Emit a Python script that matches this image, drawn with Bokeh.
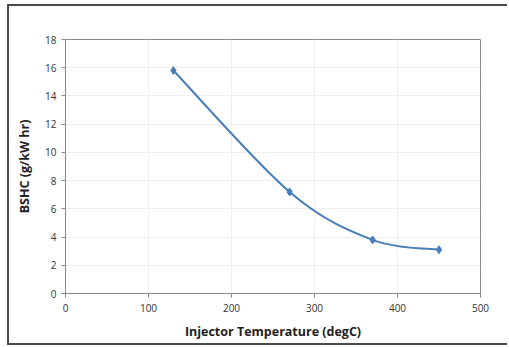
from bokeh.plotting import figure
from bokeh.embed import file_html
from bokeh.resources import INLINE
from bokeh.models import FixedTicker, Range1d

temperature = [130, 270, 370, 450]
bshc = [15.8, 7.2, 3.8, 3.1]
x_ticks = [0, 100, 200, 300, 400, 500]
y_ticks = [0, 2, 4, 6, 8, 10, 12, 14, 16, 18]

LINE = "#4a7ebb"

p = figure(width=498, height=337, output_backend="svg", toolbar_location=None,
           x_range=Range1d(0, 500), y_range=Range1d(0, 18),
           frame_width=415, frame_height=254,
           min_border_left=56, min_border_right=27, min_border_top=33, min_border_bottom=50)
p.styles = {"margin-left": "7px", "margin-top": "4px",
            "border-left": "2px solid #4a4a4a", "border-top": "2px solid #4a4a4a",
            "border-bottom": "2px solid #4a4a4a", "border-right": "none"}

# smooth curve (Catmull-Rom style Bezier segments through the data points)
n = len(temperature)
x0, y0, x1, y1, cx0, cy0, cx1, cy1 = [], [], [], [], [], [], [], []
for i in range(n - 1):
    xa, ya = temperature[i], bshc[i]
    xb, yb = temperature[i + 1], bshc[i + 1]
    xp, yp = (temperature[i - 1], bshc[i - 1]) if i > 0 else (xa, ya)
    xn, yn = (temperature[i + 2], bshc[i + 2]) if i + 2 < n else (xb, yb)
    x0.append(xa); y0.append(ya); x1.append(xb); y1.append(yb)
    cx0.append(xa + (xb - xp) / 6); cy0.append(ya + (yb - yp) / 6)
    cx1.append(xb - (xn - xa) / 6); cy1.append(yb - (yn - ya) / 6)
p.bezier(x0=x0, y0=y0, x1=x1, y1=y1, cx0=cx0, cy0=cy0, cx1=cx1, cy1=cy1,
         line_color=LINE, line_width=2)
p.scatter(temperature, bshc, marker="diamond", size=8, fill_color=LINE, line_color=LINE)

for ax in (p.xaxis, p.yaxis):
    ax.axis_line_color = "#8a8a8a"
    ax.major_tick_line_color = "#8a8a8a"
    ax.minor_tick_line_color = None
    ax.major_tick_out = 4
    ax.major_tick_in = 0
    ax.major_label_text_font = "Open Sans"
    ax.major_label_text_font_size = "10px"
    ax.major_label_text_color = "#333333"
    ax.axis_label_text_font = "Open Sans"
    ax.axis_label_text_font_size = "12.5px"
    ax.axis_label_text_font_style = "bold"
    ax.axis_label_text_color = "#222222"

p.xaxis.ticker = FixedTicker(ticks=x_ticks)
p.yaxis.ticker = FixedTicker(ticks=y_ticks)
p.xaxis.axis_label = "Injector Temperature (degC)"
p.yaxis.axis_label = "BSHC (g/kW hr)"
p.xaxis.major_label_standoff = 6
p.yaxis.major_label_standoff = 5
p.xaxis.axis_label_standoff = 8
p.yaxis.axis_label_standoff = 9

p.xgrid.ticker = FixedTicker(ticks=x_ticks)
p.ygrid.ticker = FixedTicker(ticks=y_ticks)
p.grid.grid_line_color = "#efefef"
p.outline_line_color = "#8a8a8a"
p.background_fill_color = "white"
p.border_fill_color = "white"

open("out.html", "w").write(file_html(p, INLINE))
